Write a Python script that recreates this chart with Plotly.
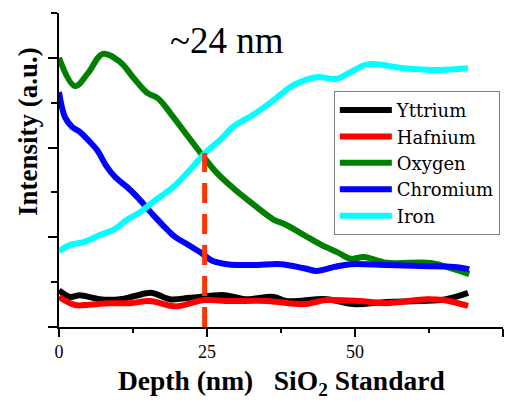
import plotly.graph_objects as go

# ---- data ----
yttrium_depth = [0, 1.9, 3.5, 6.9, 10.3, 12.8, 15.7, 18.7, 22.1, 28.0, 31.4, 36.3, 38.4, 45.2, 49.7, 55.3, 61.0, 65.4, 69.1]
yttrium_int = [0.82, 0.67, 0.71, 0.62, 0.62, 0.69, 0.76, 0.62, 0.65, 0.71, 0.62, 0.67, 0.58, 0.62, 0.51, 0.56, 0.58, 0.62, 0.76]

hafnium_depth = [0, 2.7, 4.4, 8.6, 12.0, 15.3, 19.0, 20.4, 24.6, 28.8, 35.1, 41.3, 45.2, 50.9, 55.3, 62.1, 64.9, 69.1]
hafnium_int = [0.67, 0.49, 0.49, 0.53, 0.53, 0.58, 0.47, 0.47, 0.60, 0.58, 0.58, 0.51, 0.60, 0.58, 0.53, 0.62, 0.60, 0.47]

oxygen_depth = [0, 2.7, 4.9, 7.4, 10.3, 12.5, 14.9, 16.7, 18.8, 21.6, 23.8, 26.7, 29.4, 31.9, 36.3, 38.0, 41.4, 44.3, 47.0, 49.3, 51.5, 55.4, 62.8, 66.7, 69.3]
oxygen_int = [6.0, 5.37, 5.66, 6.09, 5.91, 5.57, 5.22, 5.10, 4.77, 4.28, 3.90, 3.43, 3.10, 2.83, 2.39, 2.30, 2.05, 1.83, 1.67, 1.52, 1.56, 1.43, 1.43, 1.29, 1.18]

chromium_depth = [0, 1.0, 2.2, 3.5, 4.9, 6.4, 8.1, 9.5, 11.5, 13.2, 15.9, 18.2, 19.6, 21.6, 23.8, 26.0, 28.4, 32.8, 37.5, 41.4, 43.6, 46.5, 49.3, 55.4, 61.1, 66.7, 69.3]
chromium_int = [5.24, 4.68, 4.46, 4.35, 4.17, 3.95, 3.57, 3.34, 3.12, 2.90, 2.50, 2.18, 2.01, 1.85, 1.67, 1.47, 1.40, 1.38, 1.40, 1.31, 1.25, 1.34, 1.40, 1.38, 1.36, 1.34, 1.29]

iron_depth = [0, 1.9, 4.1, 6.9, 9.1, 11.5, 13.7, 15.9, 19.3, 22.1, 24.7, 27.2, 29.4, 32.8, 36.3, 39.6, 43.5, 46.9, 49.2, 52.3, 58.2, 63.7, 69.1]
iron_int = [1.69, 1.83, 1.89, 2.05, 2.16, 2.39, 2.56, 2.79, 3.12, 3.50, 3.88, 4.17, 4.46, 4.73, 5.06, 5.39, 5.57, 5.53, 5.68, 5.86, 5.77, 5.73, 5.77]

crossing_depth = [24.6, 24.6]
crossing_int = [0, 3.88]

x_tick_vals = [0, 25, 50, 75]
x_tick_text = ["0", "25", "50", "75"]

series = [
    ("Yttrium", yttrium_depth, yttrium_int, "#000000"),
    ("Hafnium", hafnium_depth, hafnium_int, "#FF0000"),
    ("Oxygen", oxygen_depth, oxygen_int, "#008000"),
    ("Chromium", chromium_depth, chromium_int, "#0000FF"),
    ("Iron", iron_depth, iron_int, "#00FFFF"),
]

SERIF = "Liberation Serif"
LEGEND_SERIF = "DejaVu Serif"

fig = go.Figure()
for name, xs, ys, col in series:
    fig.add_trace(go.Scatter(
        x=xs, y=ys, name=name, mode="lines",
        line=dict(color=col, width=6, shape="spline", smoothing=1.0),
    ))

fig.add_trace(go.Scatter(
    x=crossing_depth, y=crossing_int, mode="lines", showlegend=False,
    line=dict(color="#FF3300", width=5, dash="20px,11px"),
))

fig.update_layout(
    width=508, height=404,
    margin=dict(l=59, r=5, t=13, b=77, autoexpand=False),
    paper_bgcolor="white", plot_bgcolor="white",
    font=dict(family=SERIF, color="black"),
    showlegend=True,
    legend=dict(
        x=0.619, y=0.752, xanchor="left", yanchor="top",
        bgcolor="white", bordercolor="#808080", borderwidth=1,
        font=dict(family=LEGEND_SERIF, size=18, color="black"),
        tracegroupgap=0, itemwidth=52,
    ),
    xaxis=dict(
        range=[0, 75], showgrid=False, zeroline=False, automargin=False,
        showline=True, linecolor="black", linewidth=1.5,
        ticks="outside", ticklen=8, tickwidth=1.5, tickcolor="black",
        tickvals=x_tick_vals, ticktext=x_tick_text,
        tickfont=dict(family=SERIF, size=18, color="black"),
        minor=dict(dtick=12.5, tick0=0, ticks="outside", ticklen=4, tickwidth=1.5, tickcolor="black"),
    ),
    yaxis=dict(
        range=[0, 7], showgrid=False, zeroline=False, automargin=False,
        showline=True, linecolor="black", linewidth=1.5,
        ticks="outside", ticklen=9, tickwidth=1.5, tickcolor="black",
        tickvals=[0, 2, 4, 6], showticklabels=False,
        minor=dict(tickvals=[1, 3, 5, 7], ticks="outside", ticklen=6, tickwidth=1.5, tickcolor="black"),
    ),
)

fig.add_annotation(
    text="~24 nm", xref="paper", yref="paper", x=0.378, y=0.911,
    xanchor="center", yanchor="middle", showarrow=False,
    font=dict(family=SERIF, size=37, color="black"),
)
fig.add_annotation(
    text="<b>Intensity (a.u.)</b>", xref="paper", yref="paper", x=-0.07, y=0.624,
    xanchor="center", yanchor="middle", showarrow=False, textangle=-90,
    font=dict(family=SERIF, size=27, color="black"),
)
fig.add_annotation(
    text="<b>Depth (nm)\u00a0\u00a0\u00a0SiO<sub>2</sub> Standard</b>", xref="paper", yref="paper",
    x=0.5, y=-0.178, xanchor="center", yanchor="middle", showarrow=False,
    font=dict(family=SERIF, size=27.5, color="black"),
)

fig.write_html("out.html", config={"displayModeBar": False},
               post_script="document.body.style.margin='0px';")
